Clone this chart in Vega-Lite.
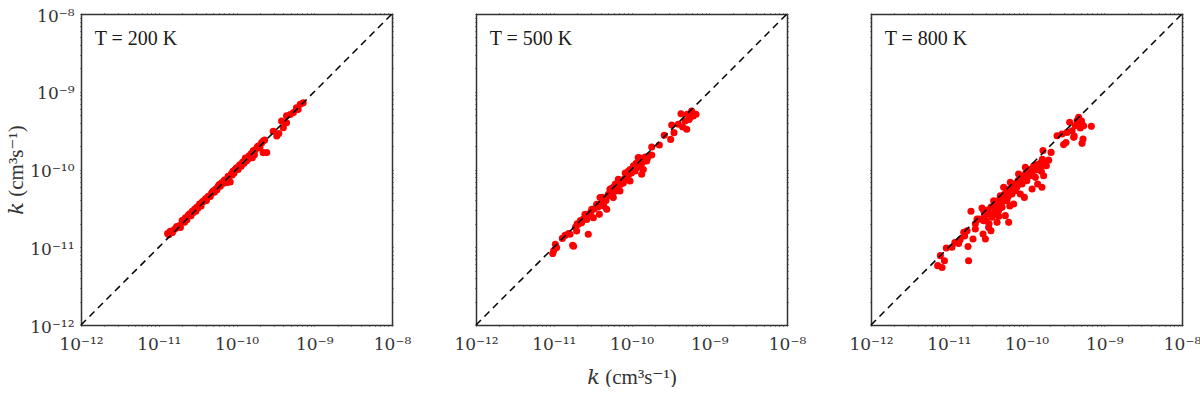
{
  "$schema": "https://vega.github.io/schema/vega-lite/v6.json",
  "padding": {"left": 5, "top": 7, "right": 0, "bottom": 0},
  "background": "white",
  "config": {
    "view": {"stroke": null},
    "font": "Liberation Serif",
    "axis": {
      "grid": false,
      "domainColor": "#333333",
      "domainWidth": 1.5,
      "tickColor": "#333333",
      "tickWidth": 1,
      "tickSize": 1,
      "labelFont": "DejaVu Serif",
      "labelFontSize": 17,
      "labelColor": "#333333",
      "labelFlush": false,
      "labelOverlap": false,
      "titleFont": "Liberation Serif, DejaVu Serif",
      "titleFontSize": 21,
      "titleFontWeight": "normal",
      "titleColor": "#333333"
    }
  },
  "spacing": 84,
  "bounds": "flush",
  "datasets": {
    "p200": [
      {"kx": 1.3e-11, "ky": 1.5e-11}, {"kx": 1.35e-11, "ky": 1.45e-11}, {"kx": 1.4e-11, "ky": 1.6e-11}, {"kx": 1.45e-11, "ky": 1.6e-11},
      {"kx": 1.5e-11, "ky": 1.55e-11}, {"kx": 1.6e-11, "ky": 1.7e-11}, {"kx": 1.7e-11, "ky": 1.85e-11}, {"kx": 1.75e-11, "ky": 1.8e-11},
      {"kx": 1.85e-11, "ky": 1.9e-11}, {"kx": 1.9e-11, "ky": 1.8e-11}, {"kx": 2.0e-11, "ky": 2.2e-11}, {"kx": 2.1e-11, "ky": 2.2e-11},
      {"kx": 2.15e-11, "ky": 2.1e-11}, {"kx": 2.2e-11, "ky": 2.4e-11}, {"kx": 2.3e-11, "ky": 2.25e-11}, {"kx": 2.4e-11, "ky": 2.6e-11},
      {"kx": 2.5e-11, "ky": 2.7e-11}, {"kx": 2.6e-11, "ky": 2.55e-11}, {"kx": 2.7e-11, "ky": 2.9e-11}, {"kx": 2.8e-11, "ky": 2.8e-11},
      {"kx": 2.9e-11, "ky": 3.1e-11}, {"kx": 3.0e-11, "ky": 2.9e-11}, {"kx": 3.1e-11, "ky": 3.3e-11}, {"kx": 3.2e-11, "ky": 3.2e-11},
      {"kx": 3.35e-11, "ky": 3.6e-11}, {"kx": 3.5e-11, "ky": 3.4e-11}, {"kx": 3.6e-11, "ky": 3.8e-11}, {"kx": 3.7e-11, "ky": 3.9e-11},
      {"kx": 3.85e-11, "ky": 3.9e-11}, {"kx": 4.0e-11, "ky": 4.2e-11}, {"kx": 4.1e-11, "ky": 4.0e-11}, {"kx": 4.3e-11, "ky": 4.5e-11},
      {"kx": 4.5e-11, "ky": 4.6e-11}, {"kx": 4.6e-11, "ky": 4.5e-11}, {"kx": 4.8e-11, "ky": 5.0e-11}, {"kx": 5.0e-11, "ky": 5.3e-11},
      {"kx": 5.2e-11, "ky": 5.1e-11}, {"kx": 5.4e-11, "ky": 5.6e-11}, {"kx": 5.6e-11, "ky": 5.5e-11}, {"kx": 5.8e-11, "ky": 6.1e-11},
      {"kx": 6.0e-11, "ky": 6.4e-11}, {"kx": 6.2e-11, "ky": 6.1e-11}, {"kx": 6.3e-11, "ky": 6.5e-11}, {"kx": 6.5e-11, "ky": 6.8e-11},
      {"kx": 6.7e-11, "ky": 6.6e-11}, {"kx": 7.0e-11, "ky": 7.3e-11}, {"kx": 7.3e-11, "ky": 7.1e-11}, {"kx": 7.6e-11, "ky": 6.8e-11},
      {"kx": 7.8e-11, "ky": 8.2e-11}, {"kx": 8.0e-11, "ky": 8.0e-11}, {"kx": 8.3e-11, "ky": 6.9e-11}, {"kx": 8.6e-11, "ky": 8.8e-11},
      {"kx": 8.8e-11, "ky": 8.5e-11}, {"kx": 9.0e-11, "ky": 9.5e-11}, {"kx": 9.3e-11, "ky": 9.0e-11}, {"kx": 9.6e-11, "ky": 1.0e-10},
      {"kx": 1.0e-10, "ky": 1.05e-10}, {"kx": 1.05e-10, "ky": 1.0e-10}, {"kx": 1.1e-10, "ky": 1.15e-10}, {"kx": 1.15e-10, "ky": 1.1e-10},
      {"kx": 1.2e-10, "ky": 1.25e-10}, {"kx": 1.25e-10, "ky": 1.2e-10}, {"kx": 1.3e-10, "ky": 1.4e-10}, {"kx": 1.35e-10, "ky": 1.3e-10},
      {"kx": 1.4e-10, "ky": 1.35e-10}, {"kx": 1.45e-10, "ky": 1.5e-10}, {"kx": 1.55e-10, "ky": 1.6e-10}, {"kx": 1.6e-10, "ky": 1.42e-10},
      {"kx": 1.65e-10, "ky": 1.75e-10}, {"kx": 1.7e-10, "ky": 1.55e-10}, {"kx": 1.75e-10, "ky": 1.8e-10}, {"kx": 1.85e-10, "ky": 1.95e-10},
      {"kx": 1.9e-10, "ky": 2.0e-10}, {"kx": 2.0e-10, "ky": 1.9e-10}, {"kx": 2.1e-10, "ky": 2.2e-10}, {"kx": 2.2e-10, "ky": 1.65e-10},
      {"kx": 2.2e-10, "ky": 2.33e-10}, {"kx": 2.3e-10, "ky": 2.4e-10}, {"kx": 2.45e-10, "ky": 1.65e-10}, {"kx": 2.97e-10, "ky": 3.1e-10},
      {"kx": 3.3e-10, "ky": 2.7e-10}, {"kx": 3.5e-10, "ky": 2.9e-10}, {"kx": 3.8e-10, "ky": 4.2e-10}, {"kx": 4.0e-10, "ky": 3.45e-10},
      {"kx": 4.2e-10, "ky": 4.0e-10}, {"kx": 4.4e-10, "ky": 4.9e-10}, {"kx": 4.4e-10, "ky": 4.0e-10}, {"kx": 4.9e-10, "ky": 5.1e-10},
      {"kx": 5.4e-10, "ky": 5.4e-10}, {"kx": 5.9e-10, "ky": 6.2e-10}, {"kx": 6.2e-10, "ky": 5.9e-10}, {"kx": 6.6e-10, "ky": 6.9e-10},
      {"kx": 7.2e-10, "ky": 7.2e-10}
    ],
    "p500": [
      {"kx": 9.7e-12, "ky": 8.3e-12}, {"kx": 1.0e-11, "ky": 9.1e-12}, {"kx": 1.09e-11, "ky": 9.9e-12}, {"kx": 1.05e-11, "ky": 1.09e-11},
      {"kx": 1.29e-11, "ky": 1.3e-11}, {"kx": 1.4e-11, "ky": 1.42e-11}, {"kx": 1.75e-11, "ky": 1.06e-11}, {"kx": 1.8e-11, "ky": 1.03e-11},
      {"kx": 1.62e-11, "ky": 1.47e-11}, {"kx": 1.97e-11, "ky": 1.62e-11}, {"kx": 2.07e-11, "ky": 1.97e-11}, {"kx": 2.28e-11, "ky": 2.07e-11},
      {"kx": 2.52e-11, "ky": 2.65e-11}, {"kx": 2.78e-11, "ky": 1.47e-11}, {"kx": 2.65e-11, "ky": 2.28e-11}, {"kx": 3.08e-11, "ky": 3.08e-11},
      {"kx": 3.23e-11, "ky": 2.4e-11}, {"kx": 3.56e-11, "ky": 3.56e-11}, {"kx": 3.86e-11, "ky": 2.65e-11}, {"kx": 3.94e-11, "ky": 4.35e-11},
      {"kx": 4.35e-11, "ky": 3.94e-11}, {"kx": 4.8e-11, "ky": 3.08e-11}, {"kx": 5.04e-11, "ky": 4.8e-11}, {"kx": 5.28e-11, "ky": 5.56e-11},
      {"kx": 5.83e-11, "ky": 4.35e-11}, {"kx": 6.44e-11, "ky": 6.14e-11}, {"kx": 6.77e-11, "ky": 7.48e-11}, {"kx": 7.1e-11, "ky": 5.28e-11},
      {"kx": 7.85e-11, "ky": 6.77e-11}, {"kx": 8.67e-11, "ky": 8.67e-11}, {"kx": 9.57e-11, "ky": 7.1e-11}, {"kx": 1.06e-10, "ky": 1.11e-10},
      {"kx": 1.11e-10, "ky": 9.57e-11}, {"kx": 1.22e-10, "ky": 1.42e-10}, {"kx": 1.29e-10, "ky": 1.17e-10}, {"kx": 1.35e-10, "ky": 8.67e-11},
      {"kx": 1.42e-10, "ky": 1.0e-10}, {"kx": 1.57e-10, "ky": 1.29e-10}, {"kx": 1.65e-10, "ky": 1.49e-10}, {"kx": 1.82e-10, "ky": 1.95e-10},
      {"kx": 1.82e-10, "ky": 1.54e-10}, {"kx": 2.28e-10, "ky": 2.07e-10}, {"kx": 2.64e-10, "ky": 2.75e-10}, {"kx": 3.19e-10, "ky": 2.44e-10},
      {"kx": 3.29e-10, "ky": 3.73e-10}, {"kx": 3.52e-10, "ky": 2.98e-10}, {"kx": 4.0e-10, "ky": 3.81e-10}, {"kx": 4.33e-10, "ky": 5.22e-10},
      {"kx": 4.55e-10, "ky": 3.52e-10}, {"kx": 4.88e-10, "ky": 4.21e-10}, {"kx": 5.13e-10, "ky": 3.29e-10}, {"kx": 5.22e-10, "ky": 5.13e-10},
      {"kx": 5.65e-10, "ky": 4.65e-10}, {"kx": 5.94e-10, "ky": 5.65e-10}, {"kx": 6.24e-10, "ky": 4.88e-10}, {"kx": 6.76e-10, "ky": 5.13e-10},
      {"kx": 5.5e-10, "ky": 4.4e-10},
      {"kx": 3.3e-11, "ky": 3.1e-11}, {"kx": 3.7e-11, "ky": 3.3e-11}, {"kx": 4.0e-11, "ky": 3.6e-11}, {"kx": 4.2e-11, "ky": 4.4e-11},
      {"kx": 4.5e-11, "ky": 4.1e-11}, {"kx": 4.7e-11, "ky": 4.0e-11}, {"kx": 5.0e-11, "ky": 4.6e-11}, {"kx": 5.3e-11, "ky": 4.9e-11},
      {"kx": 5.5e-11, "ky": 5.7e-11}, {"kx": 5.7e-11, "ky": 5.0e-11}, {"kx": 6.0e-11, "ky": 5.5e-11}, {"kx": 6.2e-11, "ky": 6.5e-11},
      {"kx": 6.6e-11, "ky": 6.0e-11}, {"kx": 6.9e-11, "ky": 7.2e-11}, {"kx": 7.2e-11, "ky": 6.4e-11}, {"kx": 7.5e-11, "ky": 7.0e-11},
      {"kx": 8.0e-11, "ky": 7.5e-11}, {"kx": 8.3e-11, "ky": 9.0e-11}, {"kx": 8.8e-11, "ky": 8.0e-11}, {"kx": 9.2e-11, "ky": 8.6e-11},
      {"kx": 9.6e-11, "ky": 1.0e-10}, {"kx": 1.0e-10, "ky": 9.0e-11}, {"kx": 1.05e-10, "ky": 1.02e-10}, {"kx": 1.1e-10, "ky": 1.0e-10},
      {"kx": 1.15e-10, "ky": 1.2e-10}, {"kx": 1.2e-10, "ky": 1.08e-10}, {"kx": 1.25e-10, "ky": 1.18e-10}, {"kx": 1.3e-10, "ky": 1.4e-10},
      {"kx": 1.38e-10, "ky": 1.25e-10}, {"kx": 1.45e-10, "ky": 1.35e-10}, {"kx": 2.4e-11, "ky": 2.3e-11}, {"kx": 2.2e-11, "ky": 2.2e-11},
      {"kx": 2.6e-11, "ky": 2.5e-11}, {"kx": 2.9e-11, "ky": 2.7e-11}, {"kx": 3.0e-11, "ky": 2.85e-11}, {"kx": 1.55e-11, "ky": 1.5e-11},
      {"kx": 1.9e-11, "ky": 1.8e-11}, {"kx": 2.0e-11, "ky": 2.0e-11}, {"kx": 4.4e-11, "ky": 3.4e-11}, {"kx": 5.9e-11, "ky": 6.0e-11},
      {"kx": 6.3e-11, "ky": 5.3e-11}, {"kx": 7.8e-11, "ky": 6.7e-11}, {"kx": 8.5e-11, "ky": 7.7e-11}, {"kx": 9.0e-11, "ky": 9.4e-11},
      {"kx": 1.07e-10, "ky": 1.12e-10}, {"kx": 1.18e-10, "ky": 1.05e-10}, {"kx": 1.33e-10, "ky": 1.15e-10}, {"kx": 1.5e-10, "ky": 1.45e-10},
      {"kx": 1.6e-10, "ky": 1.4e-10}
    ],
    "p800": [
      {"kx": 7.2e-12, "ky": 5.8e-12}, {"kx": 8.2e-12, "ky": 5.5e-12}, {"kx": 7.8e-12, "ky": 7.8e-12}, {"kx": 8.8e-12, "ky": 6.7e-12},
      {"kx": 9.3e-12, "ky": 9.8e-12}, {"kx": 1.1e-11, "ky": 1.0e-11}, {"kx": 1.34e-11, "ky": 1.12e-11}, {"kx": 1.56e-11, "ky": 1.56e-11},
      {"kx": 1.8e-11, "ky": 6.7e-12}, {"kx": 1.77e-11, "ky": 1.02e-11}, {"kx": 1.93e-11, "ky": 2.9e-11}, {"kx": 1.72e-11, "ky": 1.63e-11},
      {"kx": 2.05e-11, "ky": 1.28e-11}, {"kx": 2.2e-11, "ky": 1.72e-11}, {"kx": 2.31e-11, "ky": 2.31e-11}, {"kx": 2.68e-11, "ky": 3.2e-11},
      {"kx": 2.76e-11, "ky": 1.48e-11}, {"kx": 2.96e-11, "ky": 1.28e-11}, {"kx": 2.81e-11, "ky": 2.2e-11}, {"kx": 3.1e-11, "ky": 2.68e-11},
      {"kx": 3.26e-11, "ky": 1.8e-11}, {"kx": 3.49e-11, "ky": 1.63e-11}, {"kx": 3.6e-11, "ky": 2.43e-11}, {"kx": 3.78e-11, "ky": 3.97e-11},
      {"kx": 4.18e-11, "ky": 2.09e-11}, {"kx": 4.38e-11, "ky": 2.96e-11}, {"kx": 4.6e-11, "ky": 4.6e-11}, {"kx": 5.08e-11, "ky": 5.9e-11},
      {"kx": 4.84e-11, "ky": 3.26e-11}, {"kx": 5.34e-11, "ky": 2.55e-11}, {"kx": 5.61e-11, "ky": 3.97e-11}, {"kx": 5.9e-11, "ky": 2.09e-11},
      {"kx": 6.19e-11, "ky": 6.84e-11}, {"kx": 6.5e-11, "ky": 4.84e-11}, {"kx": 6.84e-11, "ky": 3.6e-11}, {"kx": 7.18e-11, "ky": 5.34e-11},
      {"kx": 7.92e-11, "ky": 8.75e-11}, {"kx": 8.33e-11, "ky": 4.84e-11}, {"kx": 8.75e-11, "ky": 6.5e-11}, {"kx": 9.38e-11, "ky": 4.38e-11},
      {"kx": 9.66e-11, "ky": 1.07e-10}, {"kx": 1.01e-10, "ky": 7.18e-11}, {"kx": 1.12e-10, "ky": 8.75e-11}, {"kx": 1.18e-10, "ky": 5.61e-11},
      {"kx": 1.24e-10, "ky": 1.12e-10}, {"kx": 1.3e-10, "ky": 7.92e-11}, {"kx": 1.39e-10, "ky": 6.5e-11}, {"kx": 1.51e-10, "ky": 1.07e-10},
      {"kx": 1.58e-10, "ky": 5.9e-11}, {"kx": 1.66e-10, "ky": 8.33e-11}, {"kx": 1.63e-10, "ky": 1.75e-10}, {"kx": 1.8e-10, "ky": 1.12e-10},
      {"kx": 1.93e-10, "ky": 1.32e-10}, {"kx": 2.07e-10, "ky": 1.66e-10}, {"kx": 2.47e-10, "ky": 2.72e-10}, {"kx": 2.86e-10, "ky": 2.86e-10},
      {"kx": 3.0e-10, "ky": 2.09e-10}, {"kx": 3.22e-10, "ky": 2.23e-10}, {"kx": 3.32e-10, "ky": 3.0e-10}, {"kx": 3.59e-10, "ky": 4.05e-10},
      {"kx": 3.85e-10, "ky": 3.15e-10}, {"kx": 4.05e-10, "ky": 2.59e-10}, {"kx": 4.25e-10, "ky": 3.66e-10}, {"kx": 4.47e-10, "ky": 4.25e-10},
      {"kx": 4.69e-10, "ky": 4.69e-10}, {"kx": 4.92e-10, "ky": 3.42e-10}, {"kx": 5.18e-10, "ky": 2.17e-10}, {"kx": 5.33e-10, "ky": 2.47e-10},
      {"kx": 5.43e-10, "ky": 3.66e-10}, {"kx": 5.0e-10, "ky": 4.05e-10}, {"kx": 5.1e-10, "ky": 4.2e-10}, {"kx": 6.82e-10, "ky": 3.59e-10},
      {"kx": 4.1e-10, "ky": 2.7e-10},
      {"kx": 2.5e-11, "ky": 2.3e-11}, {"kx": 2.9e-11, "ky": 2.6e-11}, {"kx": 3.0e-11, "ky": 2.2e-11}, {"kx": 3.2e-11, "ky": 3.0e-11},
      {"kx": 3.4e-11, "ky": 2.7e-11}, {"kx": 3.5e-11, "ky": 3.3e-11}, {"kx": 3.7e-11, "ky": 2.6e-11}, {"kx": 3.9e-11, "ky": 3.5e-11},
      {"kx": 4.0e-11, "ky": 3.0e-11}, {"kx": 4.1e-11, "ky": 3.8e-11}, {"kx": 4.3e-11, "ky": 3.3e-11}, {"kx": 4.5e-11, "ky": 4.1e-11},
      {"kx": 4.7e-11, "ky": 3.6e-11}, {"kx": 4.9e-11, "ky": 4.4e-11}, {"kx": 5.0e-11, "ky": 3.9e-11}, {"kx": 5.2e-11, "ky": 4.8e-11},
      {"kx": 5.4e-11, "ky": 4.2e-11}, {"kx": 5.6e-11, "ky": 5.3e-11}, {"kx": 5.8e-11, "ky": 4.5e-11}, {"kx": 6.0e-11, "ky": 5.6e-11},
      {"kx": 6.3e-11, "ky": 5.0e-11}, {"kx": 6.6e-11, "ky": 6.2e-11}, {"kx": 6.9e-11, "ky": 5.6e-11}, {"kx": 7.2e-11, "ky": 6.6e-11},
      {"kx": 7.5e-11, "ky": 5.9e-11}, {"kx": 7.8e-11, "ky": 7.2e-11}, {"kx": 8.1e-11, "ky": 6.5e-11}, {"kx": 8.5e-11, "ky": 7.8e-11},
      {"kx": 8.9e-11, "ky": 7.0e-11}, {"kx": 9.3e-11, "ky": 8.3e-11}, {"kx": 9.8e-11, "ky": 9.0e-11}, {"kx": 1.03e-10, "ky": 8.0e-11},
      {"kx": 1.08e-10, "ky": 1.0e-10}, {"kx": 1.12e-10, "ky": 9.2e-11}, {"kx": 1.17e-10, "ky": 8.4e-11}, {"kx": 1.22e-10, "ky": 1.05e-10},
      {"kx": 1.28e-10, "ky": 9.8e-11}, {"kx": 1.35e-10, "ky": 1.15e-10}, {"kx": 1.42e-10, "ky": 1.0e-10}, {"kx": 1.5e-10, "ky": 1.2e-10},
      {"kx": 1.55e-10, "ky": 9.5e-11}, {"kx": 1.6e-10, "ky": 1.35e-10}, {"kx": 1.7e-10, "ky": 1.25e-10}, {"kx": 2.8e-11, "ky": 3.0e-11},
      {"kx": 3.3e-11, "ky": 2.0e-11}, {"kx": 4.4e-11, "ky": 2.5e-11}, {"kx": 6.1e-11, "ky": 3.4e-11}, {"kx": 2.2e-11, "ky": 2.0e-11},
      {"kx": 1.4e-11, "ky": 1.25e-11}, {"kx": 1.2e-11, "ky": 1.15e-11}, {"kx": 1.6e-11, "ky": 1.4e-11}
    ]
  },
  "hconcat": [
    {
      "width": 311, "height": 311,
      "resolve": {"axis": {"x": "independent", "y": "independent"}},
      "layer": [
        {
          "data": {"name": "p200"},
          "mark": {"type": "circle", "color": "#ff0000", "opacity": 1, "size": 50},
          "encoding": {
            "x": {"field": "kx", "type": "quantitative", "scale": {"type": "log", "domain": [1e-12, 1e-8], "nice": false},
              "axis": {"orient": "bottom", "title": null, "labelPadding": 10,
                "values": [1e-12,2e-12,3e-12,4e-12,5e-12,6e-12,7e-12,8e-12,9e-12,1e-11,2e-11,3e-11,4e-11,5e-11,6e-11,7e-11,8e-11,9e-11,1e-10,2e-10,3e-10,4e-10,5e-10,6e-10,7e-10,8e-10,9e-10,1e-9,2e-9,3e-9,4e-9,5e-9,6e-9,7e-9,8e-9,9e-9,1e-8],
                "labelExpr": "abs(log(datum.value)/LN10 - round(log(datum.value)/LN10)) > 0.001 ? '' : round(log(datum.value)/LN10) == -12 ? '10⁻¹²' : round(log(datum.value)/LN10) == -11 ? '10⁻¹¹' : round(log(datum.value)/LN10) == -10 ? '10⁻¹⁰' : round(log(datum.value)/LN10) == -9 ? '10⁻⁹' : '10⁻⁸'",
                "encode": {"ticks": {"update": {"y": {"value": 0}, "y2": {"signal": "abs(log(datum.value)/LN10 - round(log(datum.value)/LN10)) < 0.001 ? -8 : -4"}}}}}},
            "y": {"field": "ky", "type": "quantitative", "scale": {"type": "log", "domain": [1e-12, 1e-8], "nice": false},
              "axis": {"orient": "left", "title": "𝑘 (cm³s⁻¹)", "titlePadding": 3, "labelPadding": 6, "labelOffset": 2,
                "values": [1e-12,2e-12,3e-12,4e-12,5e-12,6e-12,7e-12,8e-12,9e-12,1e-11,2e-11,3e-11,4e-11,5e-11,6e-11,7e-11,8e-11,9e-11,1e-10,2e-10,3e-10,4e-10,5e-10,6e-10,7e-10,8e-10,9e-10,1e-9,2e-9,3e-9,4e-9,5e-9,6e-9,7e-9,8e-9,9e-9,1e-8],
                "labelExpr": "abs(log(datum.value)/LN10 - round(log(datum.value)/LN10)) > 0.001 ? '' : round(log(datum.value)/LN10) == -12 ? '10⁻¹²' : round(log(datum.value)/LN10) == -11 ? '10⁻¹¹' : round(log(datum.value)/LN10) == -10 ? '10⁻¹⁰' : round(log(datum.value)/LN10) == -9 ? '10⁻⁹' : '10⁻⁸'",
                "encode": {"ticks": {"update": {"x": {"value": 0}, "x2": {"signal": "abs(log(datum.value)/LN10 - round(log(datum.value)/LN10)) < 0.001 ? 8 : 4"}}}}}}
          }
        },
        {
          "data": {"values": [{}]},
          "mark": {"type": "rule", "color": "#000000", "strokeWidth": 1.5, "strokeDash": [7, 5]},
          "encoding": {
            "x": {"datum": 1e-12, "type": "quantitative", "scale": {"type": "log", "domain": [1e-12, 1e-8], "nice": false},
              "axis": {"orient": "top", "title": null, "labels": false,
                "values": [1e-12,2e-12,3e-12,4e-12,5e-12,6e-12,7e-12,8e-12,9e-12,1e-11,2e-11,3e-11,4e-11,5e-11,6e-11,7e-11,8e-11,9e-11,1e-10,2e-10,3e-10,4e-10,5e-10,6e-10,7e-10,8e-10,9e-10,1e-9,2e-9,3e-9,4e-9,5e-9,6e-9,7e-9,8e-9,9e-9,1e-8],
                "encode": {"ticks": {"update": {"y": {"value": 0}, "y2": {"signal": "abs(log(datum.value)/LN10 - round(log(datum.value)/LN10)) < 0.001 ? 8 : 4"}}}}}},
            "y": {"datum": 1e-12, "type": "quantitative", "scale": {"type": "log", "domain": [1e-12, 1e-8], "nice": false},
              "axis": {"orient": "right", "title": null, "labels": false,
                "values": [1e-12,2e-12,3e-12,4e-12,5e-12,6e-12,7e-12,8e-12,9e-12,1e-11,2e-11,3e-11,4e-11,5e-11,6e-11,7e-11,8e-11,9e-11,1e-10,2e-10,3e-10,4e-10,5e-10,6e-10,7e-10,8e-10,9e-10,1e-9,2e-9,3e-9,4e-9,5e-9,6e-9,7e-9,8e-9,9e-9,1e-8],
                "encode": {"ticks": {"update": {"x": {"value": 0}, "x2": {"signal": "abs(log(datum.value)/LN10 - round(log(datum.value)/LN10)) < 0.001 ? -8 : -4"}}}}}},
            "x2": {"datum": 1e-8},
            "y2": {"datum": 1e-8}
          }
        },
        {
          "data": {"values": [{"label": "T = 200 K"}]},
          "mark": {"type": "text", "align": "left", "baseline": "alphabetic", "fontSize": 20, "font": "Liberation Serif", "color": "#1a1a1a"},
          "encoding": {
            "x": {"datum": 1.5e-12, "type": "quantitative", "axis": null},
            "y": {"datum": 4e-9, "type": "quantitative", "axis": null},
            "text": {"field": "label"}
          }
        }
      ]
    },
    {
      "width": 311, "height": 311,
      "resolve": {"axis": {"x": "independent", "y": "independent"}},
      "layer": [
        {
          "data": {"name": "p500"},
          "mark": {"type": "circle", "color": "#ff0000", "opacity": 1, "size": 50},
          "encoding": {
            "x": {"field": "kx", "type": "quantitative", "scale": {"type": "log", "domain": [1e-12, 1e-8], "nice": false},
              "axis": {"orient": "bottom", "title": "𝑘 (cm³s⁻¹)", "titlePadding": 14, "labelPadding": 10,
                "values": [1e-12,2e-12,3e-12,4e-12,5e-12,6e-12,7e-12,8e-12,9e-12,1e-11,2e-11,3e-11,4e-11,5e-11,6e-11,7e-11,8e-11,9e-11,1e-10,2e-10,3e-10,4e-10,5e-10,6e-10,7e-10,8e-10,9e-10,1e-9,2e-9,3e-9,4e-9,5e-9,6e-9,7e-9,8e-9,9e-9,1e-8],
                "labelExpr": "abs(log(datum.value)/LN10 - round(log(datum.value)/LN10)) > 0.001 ? '' : round(log(datum.value)/LN10) == -12 ? '10⁻¹²' : round(log(datum.value)/LN10) == -11 ? '10⁻¹¹' : round(log(datum.value)/LN10) == -10 ? '10⁻¹⁰' : round(log(datum.value)/LN10) == -9 ? '10⁻⁹' : '10⁻⁸'",
                "encode": {"ticks": {"update": {"y": {"value": 0}, "y2": {"signal": "abs(log(datum.value)/LN10 - round(log(datum.value)/LN10)) < 0.001 ? -8 : -4"}}}}}},
            "y": {"field": "ky", "type": "quantitative", "scale": {"type": "log", "domain": [1e-12, 1e-8], "nice": false},
              "axis": {"orient": "left", "title": null, "labels": false,
                "values": [1e-12,2e-12,3e-12,4e-12,5e-12,6e-12,7e-12,8e-12,9e-12,1e-11,2e-11,3e-11,4e-11,5e-11,6e-11,7e-11,8e-11,9e-11,1e-10,2e-10,3e-10,4e-10,5e-10,6e-10,7e-10,8e-10,9e-10,1e-9,2e-9,3e-9,4e-9,5e-9,6e-9,7e-9,8e-9,9e-9,1e-8],
                "encode": {"ticks": {"update": {"x": {"value": 0}, "x2": {"signal": "abs(log(datum.value)/LN10 - round(log(datum.value)/LN10)) < 0.001 ? 8 : 4"}}}}}}
          }
        },
        {
          "data": {"values": [{}]},
          "mark": {"type": "rule", "color": "#000000", "strokeWidth": 1.5, "strokeDash": [7, 5]},
          "encoding": {
            "x": {"datum": 1e-12, "type": "quantitative", "scale": {"type": "log", "domain": [1e-12, 1e-8], "nice": false},
              "axis": {"orient": "top", "title": null, "labels": false,
                "values": [1e-12,2e-12,3e-12,4e-12,5e-12,6e-12,7e-12,8e-12,9e-12,1e-11,2e-11,3e-11,4e-11,5e-11,6e-11,7e-11,8e-11,9e-11,1e-10,2e-10,3e-10,4e-10,5e-10,6e-10,7e-10,8e-10,9e-10,1e-9,2e-9,3e-9,4e-9,5e-9,6e-9,7e-9,8e-9,9e-9,1e-8],
                "encode": {"ticks": {"update": {"y": {"value": 0}, "y2": {"signal": "abs(log(datum.value)/LN10 - round(log(datum.value)/LN10)) < 0.001 ? 8 : 4"}}}}}},
            "y": {"datum": 1e-12, "type": "quantitative", "scale": {"type": "log", "domain": [1e-12, 1e-8], "nice": false},
              "axis": {"orient": "right", "title": null, "labels": false,
                "values": [1e-12,2e-12,3e-12,4e-12,5e-12,6e-12,7e-12,8e-12,9e-12,1e-11,2e-11,3e-11,4e-11,5e-11,6e-11,7e-11,8e-11,9e-11,1e-10,2e-10,3e-10,4e-10,5e-10,6e-10,7e-10,8e-10,9e-10,1e-9,2e-9,3e-9,4e-9,5e-9,6e-9,7e-9,8e-9,9e-9,1e-8],
                "encode": {"ticks": {"update": {"x": {"value": 0}, "x2": {"signal": "abs(log(datum.value)/LN10 - round(log(datum.value)/LN10)) < 0.001 ? -8 : -4"}}}}}},
            "x2": {"datum": 1e-8},
            "y2": {"datum": 1e-8}
          }
        },
        {
          "data": {"values": [{"label": "T = 500 K"}]},
          "mark": {"type": "text", "align": "left", "baseline": "alphabetic", "fontSize": 20, "font": "Liberation Serif", "color": "#1a1a1a"},
          "encoding": {
            "x": {"datum": 1.5e-12, "type": "quantitative", "axis": null},
            "y": {"datum": 4e-9, "type": "quantitative", "axis": null},
            "text": {"field": "label"}
          }
        }
      ]
    },
    {
      "width": 311, "height": 311,
      "resolve": {"axis": {"x": "independent", "y": "independent"}},
      "layer": [
        {
          "data": {"name": "p800"},
          "mark": {"type": "circle", "color": "#ff0000", "opacity": 1, "size": 50},
          "encoding": {
            "x": {"field": "kx", "type": "quantitative", "scale": {"type": "log", "domain": [1e-12, 1e-8], "nice": false},
              "axis": {"orient": "bottom", "title": null, "labelPadding": 10,
                "values": [1e-12,2e-12,3e-12,4e-12,5e-12,6e-12,7e-12,8e-12,9e-12,1e-11,2e-11,3e-11,4e-11,5e-11,6e-11,7e-11,8e-11,9e-11,1e-10,2e-10,3e-10,4e-10,5e-10,6e-10,7e-10,8e-10,9e-10,1e-9,2e-9,3e-9,4e-9,5e-9,6e-9,7e-9,8e-9,9e-9,1e-8],
                "labelExpr": "abs(log(datum.value)/LN10 - round(log(datum.value)/LN10)) > 0.001 ? '' : round(log(datum.value)/LN10) == -12 ? '10⁻¹²' : round(log(datum.value)/LN10) == -11 ? '10⁻¹¹' : round(log(datum.value)/LN10) == -10 ? '10⁻¹⁰' : round(log(datum.value)/LN10) == -9 ? '10⁻⁹' : '10⁻⁸'",
                "encode": {"ticks": {"update": {"y": {"value": 0}, "y2": {"signal": "abs(log(datum.value)/LN10 - round(log(datum.value)/LN10)) < 0.001 ? -8 : -4"}}}}}},
            "y": {"field": "ky", "type": "quantitative", "scale": {"type": "log", "domain": [1e-12, 1e-8], "nice": false},
              "axis": {"orient": "left", "title": null, "labels": false,
                "values": [1e-12,2e-12,3e-12,4e-12,5e-12,6e-12,7e-12,8e-12,9e-12,1e-11,2e-11,3e-11,4e-11,5e-11,6e-11,7e-11,8e-11,9e-11,1e-10,2e-10,3e-10,4e-10,5e-10,6e-10,7e-10,8e-10,9e-10,1e-9,2e-9,3e-9,4e-9,5e-9,6e-9,7e-9,8e-9,9e-9,1e-8],
                "encode": {"ticks": {"update": {"x": {"value": 0}, "x2": {"signal": "abs(log(datum.value)/LN10 - round(log(datum.value)/LN10)) < 0.001 ? 8 : 4"}}}}}}
          }
        },
        {
          "data": {"values": [{}]},
          "mark": {"type": "rule", "color": "#000000", "strokeWidth": 1.5, "strokeDash": [7, 5]},
          "encoding": {
            "x": {"datum": 1e-12, "type": "quantitative", "scale": {"type": "log", "domain": [1e-12, 1e-8], "nice": false},
              "axis": {"orient": "top", "title": null, "labels": false,
                "values": [1e-12,2e-12,3e-12,4e-12,5e-12,6e-12,7e-12,8e-12,9e-12,1e-11,2e-11,3e-11,4e-11,5e-11,6e-11,7e-11,8e-11,9e-11,1e-10,2e-10,3e-10,4e-10,5e-10,6e-10,7e-10,8e-10,9e-10,1e-9,2e-9,3e-9,4e-9,5e-9,6e-9,7e-9,8e-9,9e-9,1e-8],
                "encode": {"ticks": {"update": {"y": {"value": 0}, "y2": {"signal": "abs(log(datum.value)/LN10 - round(log(datum.value)/LN10)) < 0.001 ? 8 : 4"}}}}}},
            "y": {"datum": 1e-12, "type": "quantitative", "scale": {"type": "log", "domain": [1e-12, 1e-8], "nice": false},
              "axis": {"orient": "right", "title": null, "labels": false,
                "values": [1e-12,2e-12,3e-12,4e-12,5e-12,6e-12,7e-12,8e-12,9e-12,1e-11,2e-11,3e-11,4e-11,5e-11,6e-11,7e-11,8e-11,9e-11,1e-10,2e-10,3e-10,4e-10,5e-10,6e-10,7e-10,8e-10,9e-10,1e-9,2e-9,3e-9,4e-9,5e-9,6e-9,7e-9,8e-9,9e-9,1e-8],
                "encode": {"ticks": {"update": {"x": {"value": 0}, "x2": {"signal": "abs(log(datum.value)/LN10 - round(log(datum.value)/LN10)) < 0.001 ? -8 : -4"}}}}}},
            "x2": {"datum": 1e-8},
            "y2": {"datum": 1e-8}
          }
        },
        {
          "data": {"values": [{"label": "T = 800 K"}]},
          "mark": {"type": "text", "align": "left", "baseline": "alphabetic", "fontSize": 20, "font": "Liberation Serif", "color": "#1a1a1a"},
          "encoding": {
            "x": {"datum": 1.5e-12, "type": "quantitative", "axis": null},
            "y": {"datum": 4e-9, "type": "quantitative", "axis": null},
            "text": {"field": "label"}
          }
        }
      ]
    }
  ]
}
